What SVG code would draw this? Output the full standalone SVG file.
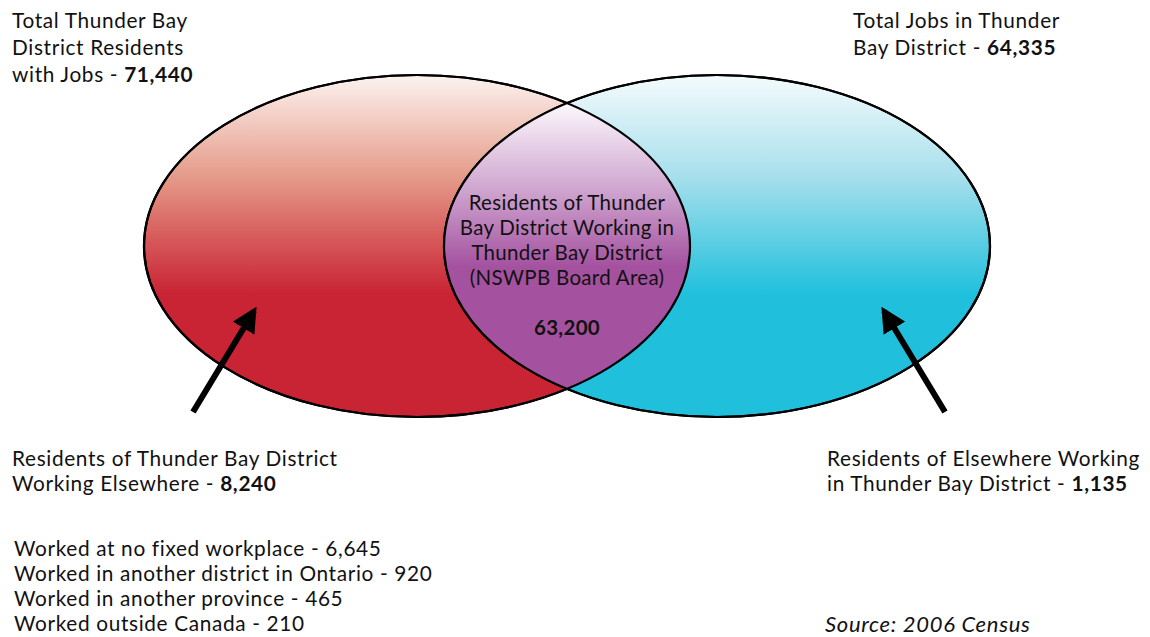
<svg xmlns="http://www.w3.org/2000/svg" width="1150" height="637" viewBox="0 0 1150 637">
  <style>
    text { font-family: Lato, "Noto Sans", "Liberation Sans", sans-serif; font-size: 20.8px; letter-spacing: 0.65px; fill: #111; }
    .b { font-weight: bold; }
    .c { text-anchor: middle; font-size: 20.5px; letter-spacing: 0.3px; }
    .it { font-style: italic; font-size: 22px; letter-spacing: 0.7px; }
    .shape { stroke: #000; stroke-width: 2.2; }
    .arrow { stroke: #000; stroke-width: 6; fill: none; }
  </style>
  <defs>
    <linearGradient id="gRed" x1="0" y1="0" x2="0" y2="1">
      <stop offset="0" stop-color="#fcf3f0"/>
      <stop offset="0.3" stop-color="#e59a88"/>
      <stop offset="0.48" stop-color="#d6595a"/>
      <stop offset="0.64" stop-color="#c92434"/>
      <stop offset="1" stop-color="#c92434"/>
    </linearGradient>
    <linearGradient id="gCyan" x1="0" y1="0" x2="0" y2="1">
      <stop offset="0" stop-color="#f4fbfd"/>
      <stop offset="0.3" stop-color="#a6dfec"/>
      <stop offset="0.64" stop-color="#20c0dd"/>
      <stop offset="1" stop-color="#20c0dd"/>
    </linearGradient>
    <linearGradient id="gPurple" gradientUnits="userSpaceOnUse" x1="0" y1="105" x2="0" y2="385">
      <stop offset="0" stop-color="#fbf6fb"/>
      <stop offset="0.3" stop-color="#cfa6d0"/>
      <stop offset="0.58" stop-color="#a4519f"/>
      <stop offset="1" stop-color="#a4519f"/>
    </linearGradient>
    <clipPath id="clipLeft">
      <ellipse cx="417" cy="246" rx="273" ry="171"/>
    </clipPath>
    <marker id="head" viewBox="0 0 10 10" refX="8" refY="5" markerWidth="4.2" markerHeight="4.2" markerUnits="strokeWidth" orient="auto">
      <path d="M0,0 L10,5 L0,10 z" fill="#000"/>
    </marker>
  </defs>

  <g id="left-circle">
    <ellipse class="shape" cx="417" cy="246" rx="273" ry="171" fill="url(#gRed)"/>
  </g>
  <g id="right-circle">
    <ellipse class="shape" cx="717" cy="246" rx="273" ry="171" fill="url(#gCyan)"/>
  </g>
  <g id="overlap">
    <ellipse cx="717" cy="246" rx="273" ry="171" fill="url(#gPurple)" clip-path="url(#clipLeft)"/>
    <ellipse cx="417" cy="246" rx="273" ry="171" fill="none" stroke="#000" stroke-width="2.2"/>
    <ellipse cx="717" cy="246" rx="273" ry="171" fill="none" stroke="#000" stroke-width="2.2"/>
    <text class="c" x="567" y="210">Residents of Thunder</text>
    <text class="c" x="567" y="235">Bay District Working in</text>
    <text class="c" x="567" y="260">Thunder Bay District</text>
    <text class="c" x="567" y="285">(NSWPB Board Area)</text>
    <text class="c b" x="567" y="335">63,200</text>
  </g>

  <g id="connectors">
    <line class="arrow" x1="193" y1="412" x2="254" y2="311" marker-end="url(#head)"/>
    <line class="arrow" x1="945" y1="412" x2="884" y2="311" marker-end="url(#head)"/>
  </g>

  <g id="label-residents">
    <text x="12" y="28">Total Thunder Bay</text>
    <text x="12" y="55">District Residents</text>
    <text x="12" y="82">with Jobs - <tspan class="b">71,440</tspan></text>
  </g>
  <g id="label-jobs">
    <text x="853" y="28">Total Jobs in Thunder</text>
    <text x="853" y="55">Bay District - <tspan class="b">64,335</tspan></text>
  </g>
  <g id="label-outflow">
    <text x="12" y="466">Residents of Thunder Bay District</text>
    <text x="12" y="491">Working Elsewhere - <tspan class="b">8,240</tspan></text>
  </g>
  <g id="label-breakdown">
    <text x="14" y="556">Worked at no fixed workplace - 6,645</text>
    <text x="14" y="581">Worked in another district in Ontario - 920</text>
    <text x="14" y="606">Worked in another province - 465</text>
    <text x="14" y="631">Worked outside Canada - 210</text>
  </g>
  <g id="label-inflow">
    <text x="827" y="466">Residents of Elsewhere Working</text>
    <text x="827" y="491">in Thunder Bay District - <tspan class="b">1,135</tspan></text>
  </g>
  <g id="label-source">
    <text class="it" x="825" y="632">Source: 2006 Census</text>
  </g>
</svg>
